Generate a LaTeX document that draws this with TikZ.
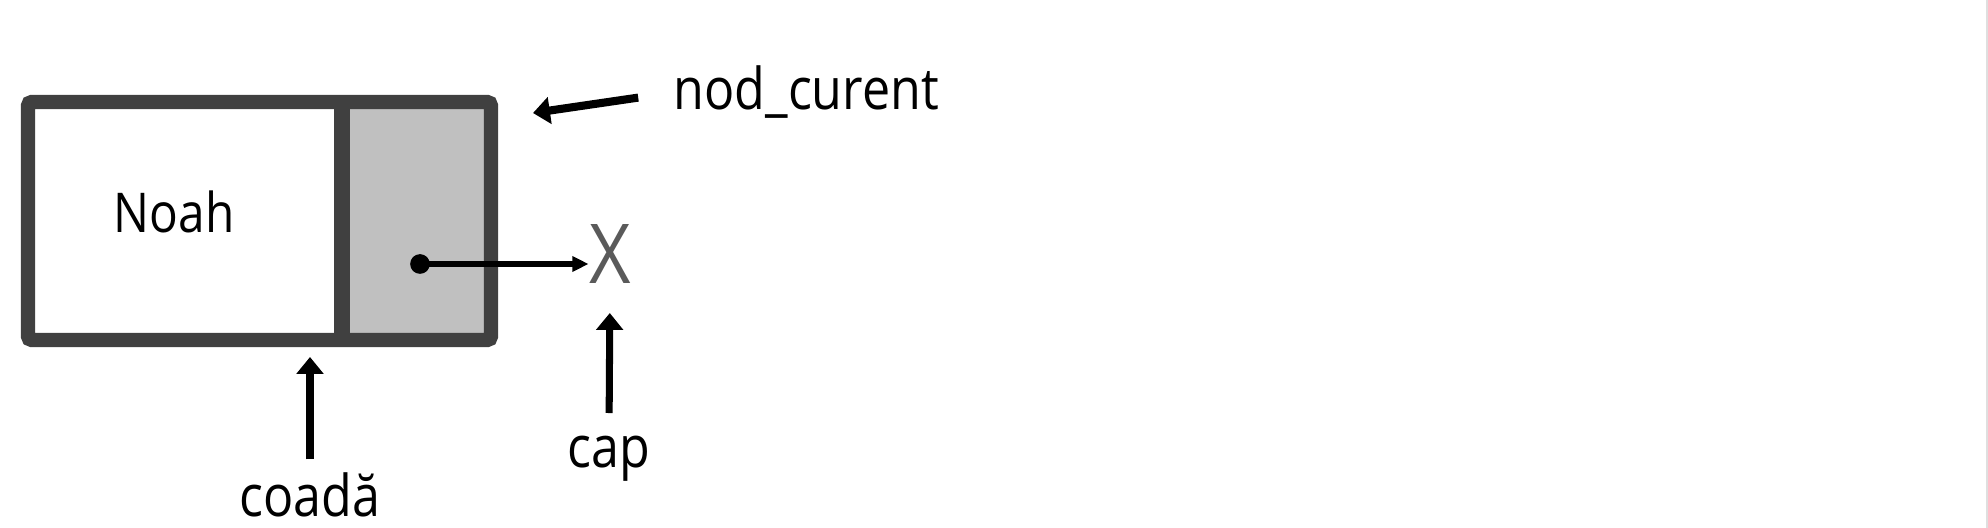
\documentclass[tikz,border=0pt]{standalone}
\usepackage{fontspec}
\setmainfont{Open Sans}[FakeStretch=0.87]
\usetikzlibrary{arrows.meta}
\definecolor{rama}{RGB}{64,64,64}
\definecolor{celula}{RGB}{192,192,192}
\definecolor{gri}{RGB}{90,90,90}
\newcommand{\eticheta}{\fontsize{16.4}{19}\selectfont}

\begin{document}
\begin{tikzpicture}[x=0.01cm,y=-0.01cm,
    sageata/.style={line width=2pt,-{Triangle[length=4.8pt,width=7.5pt]}},
    scris/.style={inner sep=0pt,font=\eticheta}]
    \useasboundingbox (0,0) rectangle (1988,528);
    \draw[gray!25,line width=0.5pt] (1987,0)--(1987,528);
    % nodul listei
    \fill[celula] (342,102) rectangle (491,340);
    \draw[rama,line width=4pt,rounded corners=1pt] (28,102) rectangle (491,340);
    \draw[rama,line width=4.3pt] (342,102)--(342,340);
    \node[scris,anchor=base,font=\fontsize{15.6}{18}\selectfont] (noah) at (174,233) {Noah};
    \node[circle,fill=black,inner sep=0pt,minimum size=5.6pt] (punct) at (420,264) {};
    \node[inner sep=0pt,text=gri,font=\fontsize{23.5}{26}\selectfont] (x) at (610,254) {X};
    \draw[line width=1.6pt,-{Triangle[length=4.6pt,width=4.2pt]}] (punct.center)--(punct -| x.west);
    % etichete
    \node[scris,anchor=base west] (nod) at (673,110) {nod\_curent};
    \node[scris,anchor=base] (cap) at (609,468) {cap};
    \node[scris,anchor=base] (coada) at (310,517) {coadă};
    \coordinate (varf) at (533,113);
    \coordinate (fund) at (310,357);
    \draw[sageata,line width=2.3pt,shorten <=10pt] (nod.west)--(varf);
    \draw[sageata,shorten <=6.5pt,shorten >=8.2pt] (cap.north)--(x.south);
    \draw[sageata,shorten <=3.7pt] (coada.north)--(fund);
\end{tikzpicture}
\end{document}
